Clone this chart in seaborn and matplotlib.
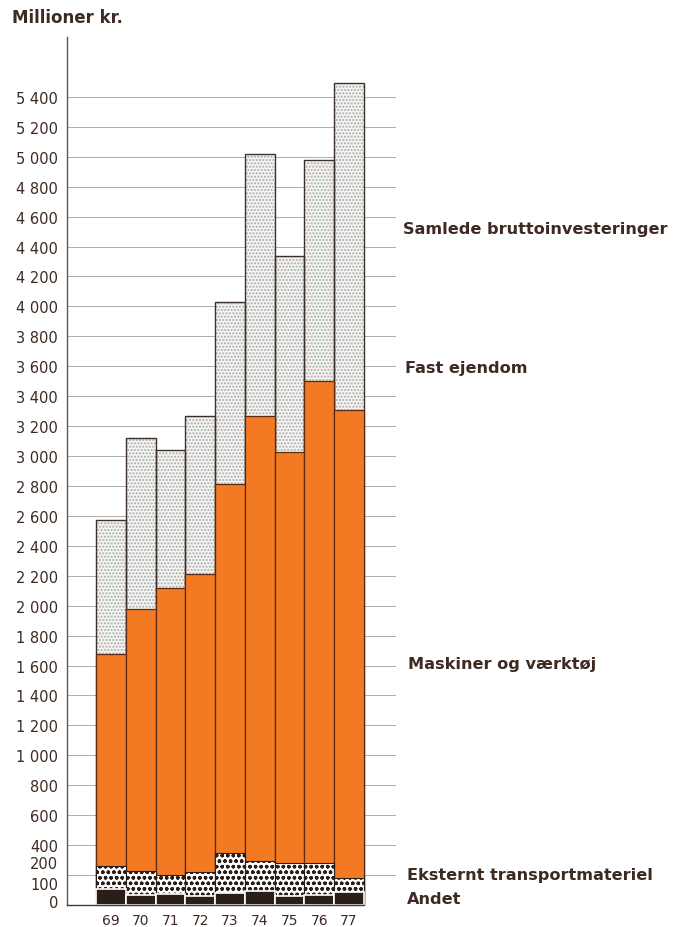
"""
Stacked bar chart: Samlede bruttoinvesteringer 1969-77 (millioner kr.),
split into Andet, Eksternt transportmateriel, Maskiner og vaerktoej
and Fast ejendom.
"""
import pandas as pd
import seaborn as sns
import matplotlib.pyplot as plt


"""
1. Data (read off the original chart)
"""
years = ['69', '70', '71', '72', '73', '74', '75', '76', '77']
andet = [105, 70, 75, 60, 80, 95, 60, 70, 85]
transport = [155, 155, 125, 160, 270, 200, 220, 210, 95]
maskiner = [1420, 1755, 1920, 1995, 2465, 2975, 2750, 3220, 3130]
fast_ejendom = [895, 1140, 920, 1050, 1215, 1745, 1305, 1480, 2180]

# tick labels on the y axis (the bottom of the original axis is squeezed)
ytick_labels = ['0', '100', '200'] + [f'{v:,}'.replace(',', ' ')
                                      for v in range(400, 5401, 200)]
ytick_pos = [25, 150, 285] + list(range(400, 5401, 200))
grid_pos = list(range(200, 5401, 200))

df = pd.DataFrame({'aar': years, 'andet': andet, 'transport': transport,
                   'maskiner': maskiner, 'fast': fast_ejendom})
df['c_transport'] = df['andet'] + df['transport']
df['c_maskiner'] = df['c_transport'] + df['maskiner']
df['total'] = df['c_maskiner'] + df['fast']


"""
2. Plot
"""
sns.set_style('white')
plt.rcParams['font.family'] = ['DejaVu Sans']
txt = '#3d2a22'
orange = '#f37a22'

fig = plt.figure(figsize=(6.74, 9.28), dpi=100)
ax = fig.add_axes([67 / 674, 22 / 928, 329 / 674, 868 / 928])

# horizontal guide lines behind the bars
ax.hlines(grid_pos, -1.474, 9.575, color='#ababab', linewidth=0.7,
          zorder=0.5)

common = dict(data=df, x='aar', width=1, errorbar=None, saturation=1, ax=ax)
# fast ejendom (light dots) = full bar
sns.barplot(y='total', color='#f4f4f2', edgecolor='#ababab',
            hatch='.....', linewidth=0, **common)
sns.barplot(y='total', color='#3e302a', fill=False, linewidth=1.0, **common)
# maskiner og vaerktoej
sns.barplot(y='c_maskiner', color=orange, edgecolor='#5a2a12',
            linewidth=0.9, **common)
# eksternt transportmateriel (coarse dots)
sns.barplot(y='c_transport', color='white', edgecolor='#2a1e1a',
            hatch='ooo', linewidth=0.8, **common)
# andet
sns.barplot(y='andet', color='#2b1d18', edgecolor='white',
            linewidth=1.2, **common)

ax.set_xlim(-1.474, 9.575)
ax.set_ylim(0, 5800)
ax.set_xlabel('')
ax.set_ylabel('')

ax.set_yticks(ytick_pos)
ax.set_yticklabels(ytick_labels, fontsize=10.5, color=txt)
ax.grid(False)
ax.tick_params(axis='y', which='both', length=0, pad=6.5)
ax.set_xticks(range(len(years)))
ax.set_xticklabels(years, fontsize=10, color=txt)
ax.tick_params(axis='x', length=0, pad=6)

for side in ['top', 'right']:
    ax.spines[side].set_visible(False)
ax.spines['left'].set_color('#5a5a5a')
ax.spines['left'].set_linewidth(1.0)
ax.spines['bottom'].set_color('#3a3a3a')
ax.spines['bottom'].set_linewidth(1.0)
ax.spines['bottom'].set_bounds(-1.474, 8.5)

fig.text(12 / 674, 1 - 18 / 928, 'Millioner kr.', fontsize=12,
         fontweight='bold', color=txt, va='center', ha='left')

labels = [('Samlede bruttoinvesteringer', 403, 230),
          ('Fast ejendom', 405, 368),
          ('Maskiner og værktøj', 408, 665),
          ('Eksternt transportmateriel', 407, 876),
          ('Andet', 407, 900)]
for name, px, py in labels:
    fig.text(px / 674, 1 - py / 928, name, fontsize=11.6,
             fontweight='bold', color=txt, va='center', ha='left')

plt.savefig('out.png', dpi=100)
